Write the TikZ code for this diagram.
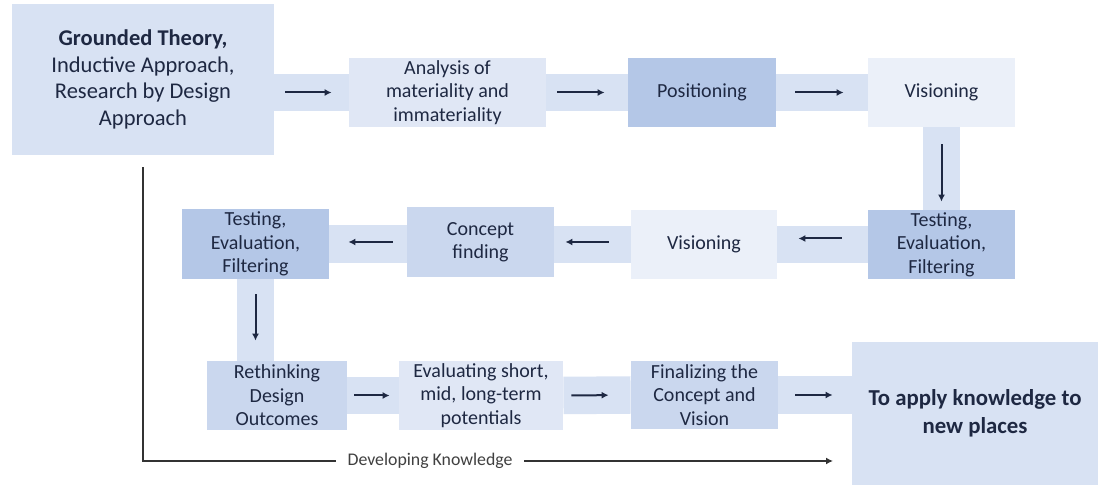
\documentclass[tikz,border=0pt]{standalone}
\usepackage{fontspec}
\setmainfont{Carlito}
\usetikzlibrary{arrows.meta,backgrounds}
\definecolor{ink}{HTML}{1E2842}
\definecolor{pale}{HTML}{D8E2F3}
\definecolor{palest}{HTML}{EBF0F9}
\definecolor{light}{HTML}{E0E7F5}
\definecolor{mid}{HTML}{CAD7EE}
\definecolor{deep}{HTML}{B4C7E7}
\begin{document}
\begin{tikzpicture}[x=0.5pt, y=-0.5pt,
    box/.style = {rectangle, inner sep=0pt, align=center, text=ink, minimum width=73.5pt, minimum height=34.5pt, font=\fontsize{10}{11.75}\selectfont},
    band/.style = {draw=pale, line width=18.75pt},
    flow/.style = {draw=ink, line width=1pt, -{Latex[length=3.5pt,width=3.5pt]}},
    dev/.style = {draw=black!80, line width=0.8pt, -{Latex[length=3.5pt,width=3.5pt]}}]
    \useasboundingbox (0,0) rectangle (1098,485);
    \node [box, fill=pale, minimum width=131pt, minimum height=75.5pt, font=\fontsize{11.25}{13.3}\selectfont] (GT) at (143,79.5) {\textbf{Grounded Theory,}\\Inductive Approach,\\Research by Design\\Approach};
    \node [box, fill=light, minimum width=98.5pt] (AM) at (447.5,92.5) {Analysis of\\materiality and\\immateriality};
    \node [box, fill=deep, minimum width=74pt] (P) at (702,92.5) {Positioning};
    \node [box, fill=palest] (V1) at (941.5,92.5) {Visioning};
    \node [box, fill=deep] (T1) at (941.5,244.5) {Testing,\\Evaluation,\\Filtering};
    \node [box, fill=palest, minimum width=73pt] (V2) at (704,244.5) {Visioning};
    \node [box, fill=mid, minimum height=35pt] (CF) at (480.5,242) {Concept\\finding};
    \node [box, fill=deep, minimum height=35pt] (T2) at (255.5,244) {Testing,\\Evaluation,\\Filtering};
    \node [box, fill=mid, minimum width=70pt] (RD) at (277,395.5) {Rethinking\\Design\\Outcomes};
    \node [box, fill=light, minimum width=82pt] (ES) at (481,395.5) {Evaluating short,\\mid, long-term\\potentials};
    \node [box, fill=mid, minimum height=34pt] (FC) at (704.5,395) {Finalizing the\\Concept and\\Vision};
    \node [box, fill=pale, minimum width=123pt, minimum height=71.5pt, font=\fontsize{11.4}{14}\selectfont\bfseries] (AK) at (975,413.5) {To apply knowledge to\\new places};
    \begin{scope}[on background layer]
        \draw [band] (GT.east |- AM.west) -- (AM.west);
        \draw [band] (AM.east) -- (P.west);
        \draw [band] (P.east) -- (V1.west);
        \draw [band] (V1.south) -- (T1.north);
        \draw [band] (T1.west) -- (V2.east);
        \draw [band] (V2.west) -- (V2.west -| CF.east);
        \draw [band] (T2.east) -- (T2.east -| CF.west);
        \draw [band] (T2.south) -- (T2.south |- RD.north);
        \draw [band] (RD.east) -- (ES.west);
        \draw [band] (ES.east) -- (FC.west);
        \draw [band] (FC.east) -- (FC.east -| AK.west);
    \end{scope}
    \draw [flow, shorten <=5.5pt, shorten >=8.5pt] (GT.east |- AM.west) -- (AM.west);
    \draw [flow, shorten <=5.5pt, shorten >=11.5pt] (AM.east) -- (P.west);
    \draw [flow, shorten <=9.5pt, shorten >=12pt] (P.east) -- (V1.west);
    \draw [flow, shorten <=8.5pt, shorten >=4pt] (V1.south) -- (T1.north);
    \draw [flow, shorten <=13pt, shorten >=10.5pt] ([yshift=3pt]T1.west) -- ([yshift=3pt]T1.west -| V2.east);
    \draw [flow, shorten <=11pt, shorten >=5.5pt] (V2.west |- CF) -- (CF.east);
    \draw [flow, shorten <=7pt, shorten >=9.5pt] (CF.west) -- (CF.west -| T2.east);
    \draw [flow, shorten <=7.5pt, shorten >=10pt] (T2.south) -- (T2.south |- RD.north);
    \draw [flow, shorten <=3.5pt, shorten >=4.5pt] (RD.east) -- (ES.west);
    \draw [flow, shorten <=4pt, shorten >=11pt] (ES.east) -- (FC.west);
    \draw [flow, shorten <=8.5pt, shorten >=9.5pt] (FC.east) -- (FC.east -| AK.west);
    \coordinate (DK) at (833,461);
    \draw [dev] ([yshift=-6pt]GT.south) |- node [pos=0.708, fill=white, inner xsep=6pt, inner ysep=1pt, text=black!75, font=\fontsize{8.9}{10}\selectfont] {Developing Knowledge} (DK);
\end{tikzpicture}
\end{document}
